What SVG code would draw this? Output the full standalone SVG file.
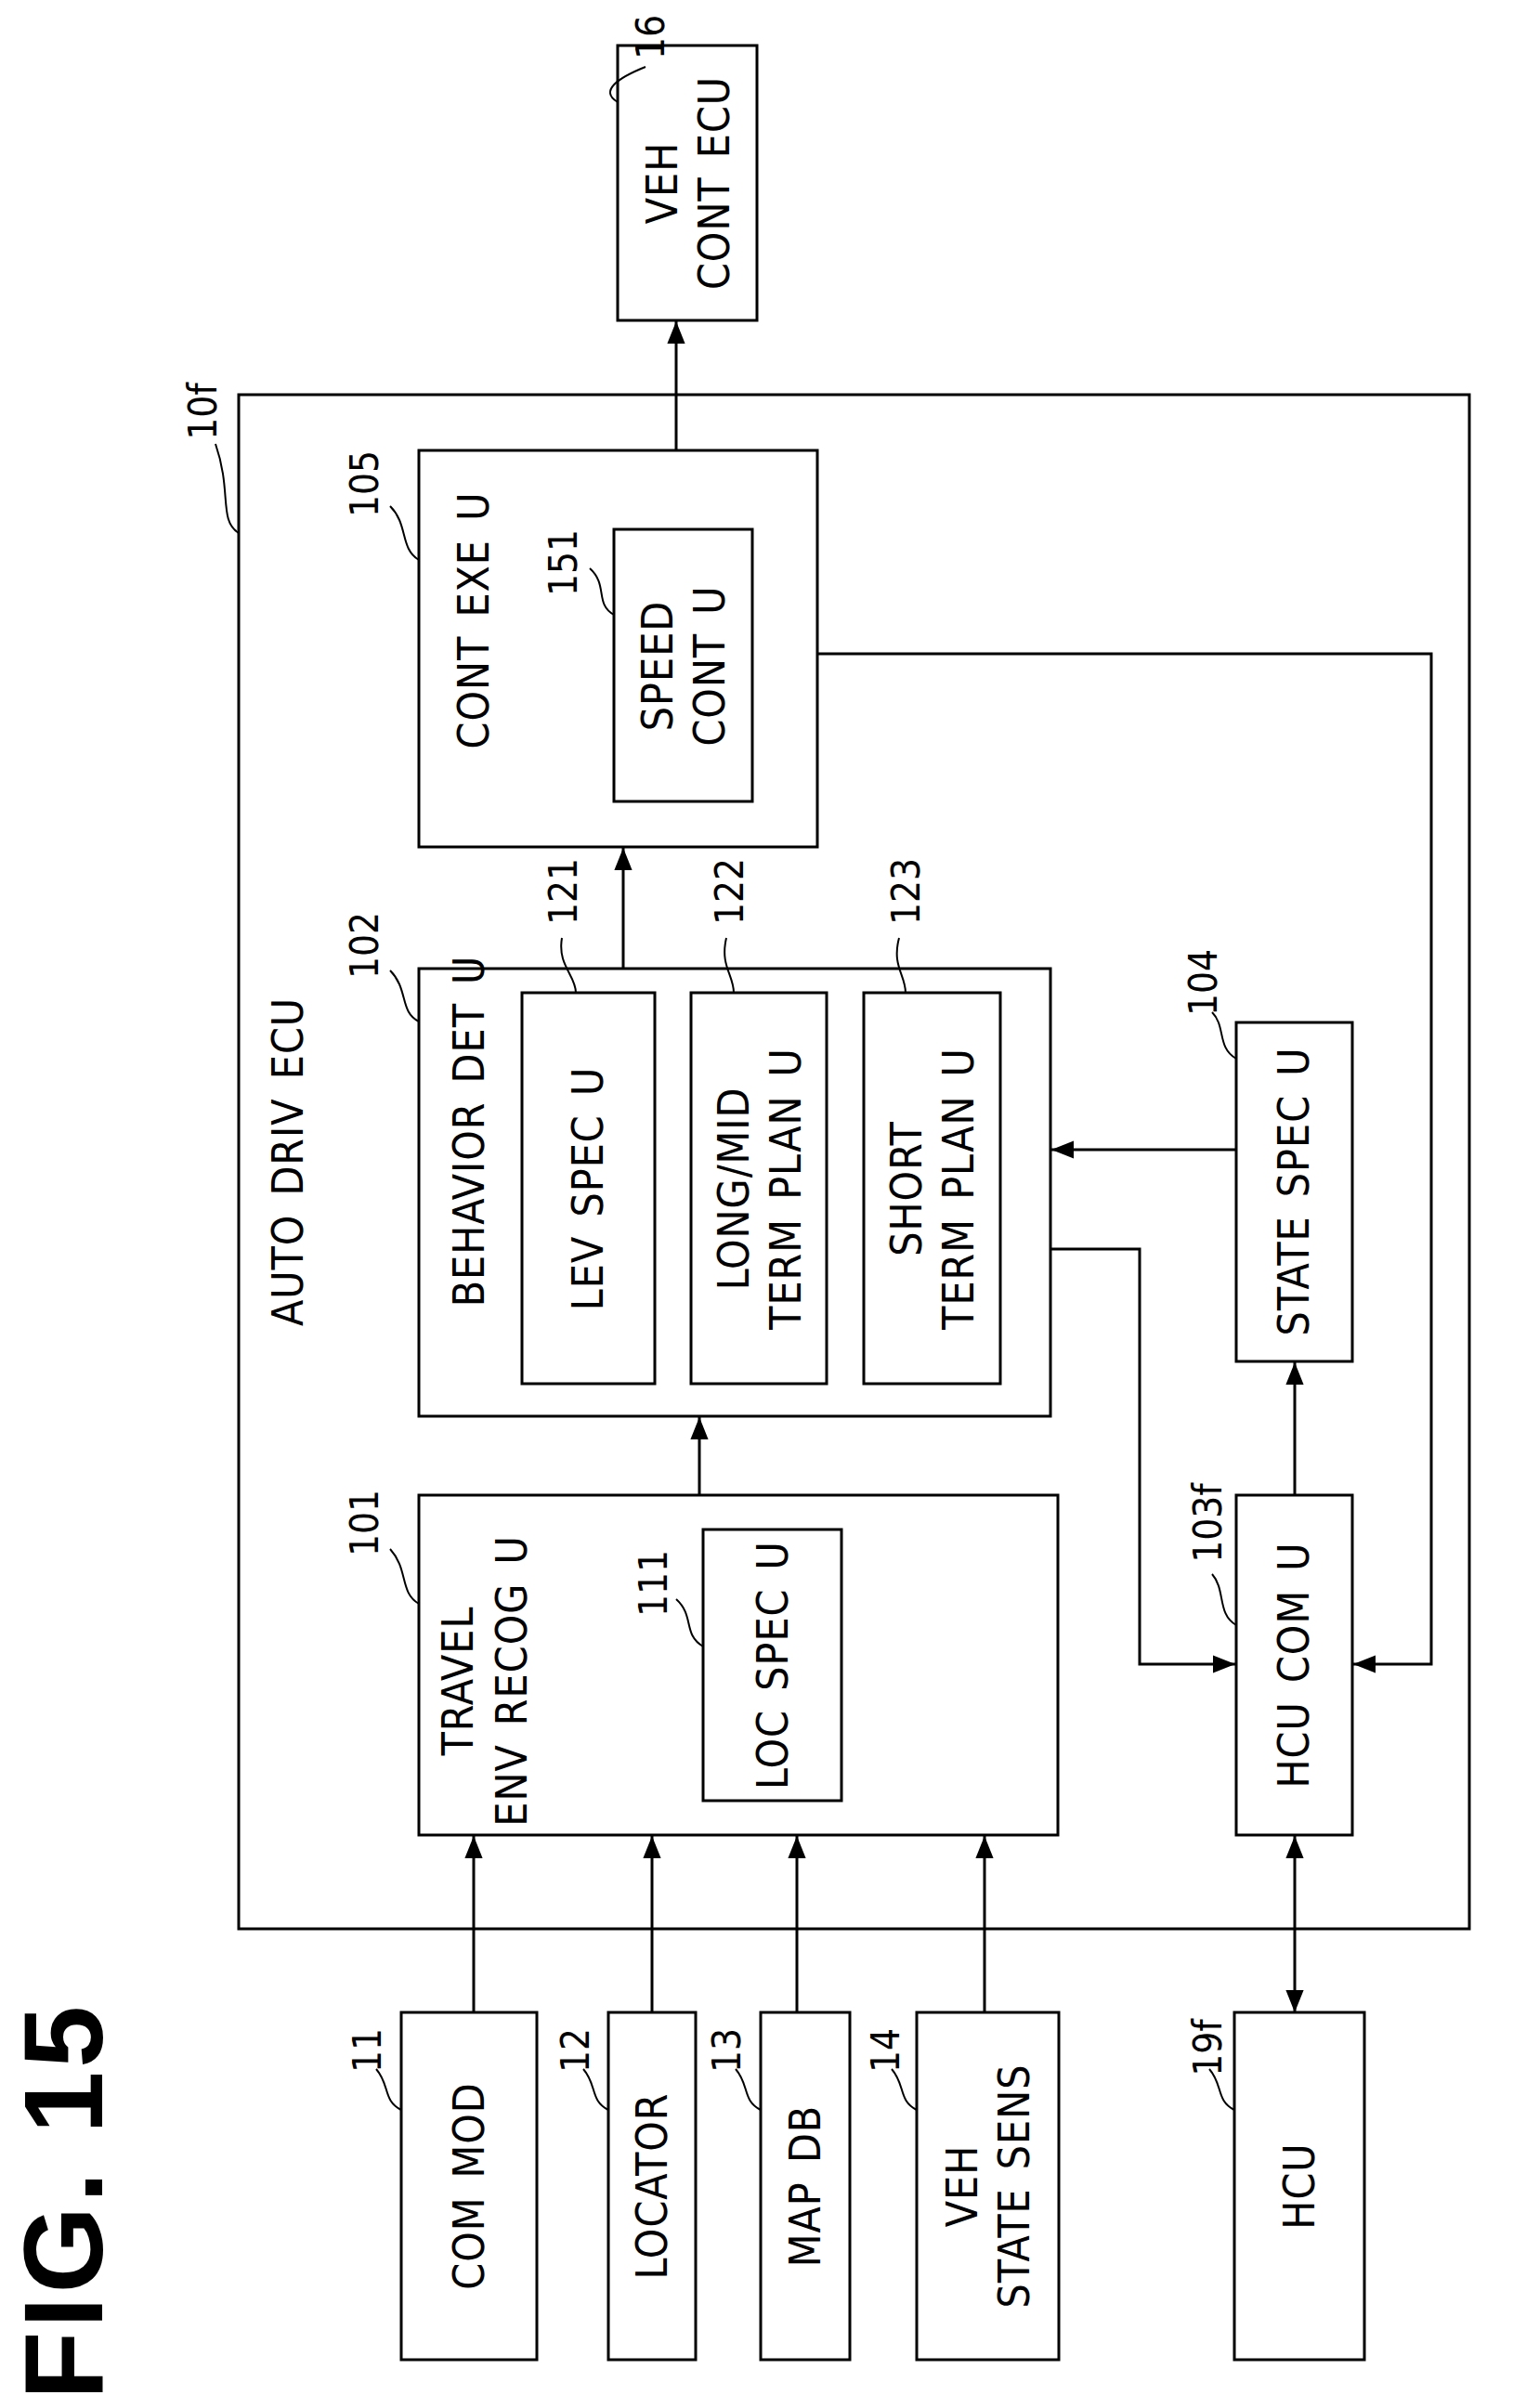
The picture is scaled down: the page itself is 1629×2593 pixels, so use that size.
<svg xmlns="http://www.w3.org/2000/svg" width="1629" height="2593" viewBox="0 0 1629 2593">
<style>
rect{fill:#fff;stroke:#000;stroke-width:3}
.c{fill:none;stroke:#000;stroke-width:3}
.l{fill:none;stroke:#000;stroke-width:2}
text{font-family:"DejaVu Sans Condensed","Liberation Sans",sans-serif;font-size:46px;text-anchor:middle;dominant-baseline:central;letter-spacing:1px;word-spacing:6px}
.n{font-size:42px;letter-spacing:0}
.fig{font-family:"Liberation Sans",sans-serif;font-weight:bold;font-size:120px;letter-spacing:4px;word-spacing:0}
</style>
<defs>
<marker id="b" viewBox="0 0 10 10" refX="10" refY="5" markerWidth="24" markerHeight="24" markerUnits="userSpaceOnUse" orient="auto-start-reverse"><path d="M0,1L10,5L0,9z" fill="#000"/></marker></defs>
<text class="fig" transform="translate(68,2370) rotate(-90)">FIG. 15</text>
<g id="n10f"><rect x="257" y="425" width="1325" height="1652"/><text transform="translate(310,1251) rotate(-90)">AUTO DRIV ECU</text><text class="n" transform="translate(218,443) rotate(-90)">10f</text><path class="l" d="M257,574 C235,560 250,530 232,478"/></g>
<g id="n16"><rect x="665" y="49" width="150" height="296"/><text transform="translate(740,197) rotate(-90)"><tspan x="0" dy="-27">VEH</tspan><tspan x="0" dy="56">CONT ECU</tspan></text><text class="n" transform="translate(700,40) rotate(-90)">16</text><path class="l" d="M665,110 C645,98 665,84 695,72"/></g>
<g id="n105"><rect x="451" y="485" width="429" height="427"/><text transform="translate(510,668) rotate(-90)">CONT EXE U</text><text class="n" transform="translate(392,521) rotate(-90)">105</text><path class="l" d="M451,603 C430,590 440,565 420,545"/></g>
<g id="n151"><rect x="661" y="570" width="149" height="293"/><text transform="translate(735,717) rotate(-90)"><tspan x="0" dy="-27">SPEED</tspan><tspan x="0" dy="56">CONT U</tspan></text><text class="n" transform="translate(606,606) rotate(-90)">151</text><path class="l" d="M661,662 C640,650 655,630 635,612"/></g>
<g id="n102"><rect x="451" y="1043" width="680" height="482"/><text transform="translate(505,1218) rotate(-90)">BEHAVIOR DET U</text><text class="n" transform="translate(392,1018) rotate(-90)">102</text><path class="l" d="M451,1100 C430,1090 440,1065 420,1045"/></g>
<g id="n121"><rect x="562" y="1069" width="143" height="421"/><text transform="translate(633,1280) rotate(-90)">LEV SPEC U</text><text class="n" transform="translate(606,960) rotate(-90)">121</text><path class="l" d="M620,1069 C620,1050 600,1040 605,1010"/></g>
<g id="n122"><rect x="744" y="1069" width="146" height="421"/><text transform="translate(817,1280) rotate(-90)"><tspan x="0" dy="-27">LONG/MID</tspan><tspan x="0" dy="56">TERM PLAN U</tspan></text><text class="n" transform="translate(785,960) rotate(-90)">122</text><path class="l" d="M790,1069 C790,1050 775,1040 782,1010"/></g>
<g id="n123"><rect x="930" y="1069" width="147" height="421"/><text transform="translate(1003,1280) rotate(-90)"><tspan x="0" dy="-27">SHORT</tspan><tspan x="0" dy="56">TERM PLAN U</tspan></text><text class="n" transform="translate(975,960) rotate(-90)">123</text><path class="l" d="M975,1069 C975,1050 960,1040 968,1010"/></g>
<g id="n101"><rect x="451" y="1610" width="688" height="366"/><text transform="translate(522,1810) rotate(-90)"><tspan x="0" dy="-29">TRAVEL</tspan><tspan x="0" dy="58">ENV RECOG U</tspan></text><text class="n" transform="translate(392,1640) rotate(-90)">101</text><path class="l" d="M451,1727 C430,1715 440,1690 420,1668"/></g>
<g id="n111"><rect x="757" y="1647" width="149" height="292"/><text transform="translate(832,1793) rotate(-90)">LOC SPEC U</text><text class="n" transform="translate(703,1705) rotate(-90)">111</text><path class="l" d="M757,1773 C735,1760 748,1740 728,1722"/></g>
<g id="n104"><rect x="1331" y="1101" width="125" height="365"/><text transform="translate(1393,1283) rotate(-90)">STATE SPEC U</text><text class="n" transform="translate(1295,1058) rotate(-90)">104</text><path class="l" d="M1331,1140 C1310,1128 1320,1105 1305,1090"/></g>
<g id="n103f"><rect x="1331" y="1610" width="125" height="366"/><text transform="translate(1393,1793) rotate(-90)">HCU COM U</text><text class="n" transform="translate(1300,1640) rotate(-90)">103f</text><path class="l" d="M1331,1750 C1310,1738 1320,1712 1305,1695"/></g>
<g id="n11"><rect x="432" y="2167" width="146" height="374"/><text transform="translate(505,2354) rotate(-90)">COM MOD</text><text class="n" transform="translate(395,2208) rotate(-90)">11</text><path class="l" d="M432,2272 C412,2262 420,2245 405,2228"/></g>
<g id="n12"><rect x="655" y="2167" width="94" height="374"/><text transform="translate(702,2354) rotate(-90)">LOCATOR</text><text class="n" transform="translate(619,2208) rotate(-90)">12</text><path class="l" d="M655,2272 C635,2262 643,2245 628,2228"/></g>
<g id="n13"><rect x="819" y="2167" width="96" height="374"/><text transform="translate(867,2354) rotate(-90)">MAP DB</text><text class="n" transform="translate(782,2208) rotate(-90)">13</text><path class="l" d="M819,2272 C799,2262 807,2245 792,2228"/></g>
<g id="n14"><rect x="987" y="2167" width="153" height="374"/><text transform="translate(1063,2354) rotate(-90)"><tspan x="0" dy="-27">VEH</tspan><tspan x="0" dy="56">STATE SENS</tspan></text><text class="n" transform="translate(953,2208) rotate(-90)">14</text><path class="l" d="M987,2272 C967,2262 975,2245 960,2228"/></g>
<g id="n19f"><rect x="1329" y="2167" width="140" height="374"/><text transform="translate(1399,2354) rotate(-90)">HCU</text><text class="n" transform="translate(1300,2205) rotate(-90)">19f</text><path class="l" d="M1329,2272 C1309,2262 1317,2245 1302,2228"/></g>
<g id="connectors">
<path class="c" d="M510,2167V1977" marker-end="url(#b)"/>
<path class="c" d="M702,2167V1977" marker-end="url(#b)"/>
<path class="c" d="M858,2167V1977" marker-end="url(#b)"/>
<path class="c" d="M1060,2167V1977" marker-end="url(#b)"/>
<path class="c" d="M1394,2167V1977" marker-start="url(#b)" marker-end="url(#b)"/>
<path class="c" d="M753,1610V1526" marker-end="url(#b)"/>
<path class="c" d="M671,1043V913" marker-end="url(#b)"/>
<path class="c" d="M728,485V346" marker-end="url(#b)"/>
<path class="c" d="M1394,1610V1467" marker-end="url(#b)"/>
<path class="c" d="M1331,1238H1132" marker-end="url(#b)"/>
<path class="c" d="M1131,1345H1227V1792H1330" marker-end="url(#b)"/>
<path class="c" d="M880,704H1541V1792H1457" marker-end="url(#b)"/>
</g>
</svg>
